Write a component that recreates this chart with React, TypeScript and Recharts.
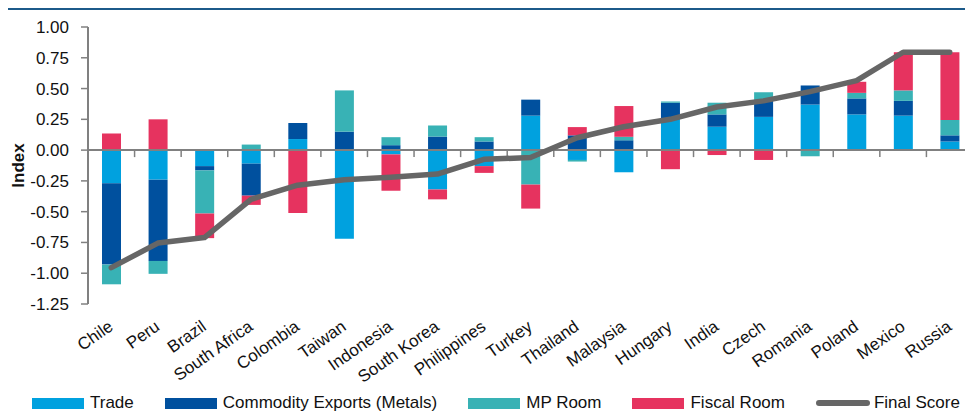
import {
  ComposedChart, Bar, Line, XAxis, YAxis, ReferenceLine, Legend,
} from 'recharts';

const countries = [
  'Chile', 'Peru', 'Brazil', 'South Africa', 'Colombia', 'Taiwan', 'Indonesia',
  'South Korea', 'Philippines', 'Turkey', 'Thailand', 'Malaysia', 'Hungary',
  'India', 'Czech', 'Romania', 'Poland', 'Mexico', 'Russia',
];
const trade = [-0.27, -0.24, -0.13, -0.11, 0.09, -0.72, -0.035, -0.32, -0.13, 0.28, -0.08, -0.18, 0.26, 0.19, 0.27, 0.37, 0.29, 0.28, 0.07];
const commodity = [-0.66, -0.66, -0.035, -0.26, 0.13, 0.15, 0.04, 0.11, 0.07, 0.13, 0.12, 0.08, 0.125, 0.1, 0.13, 0.155, 0.13, 0.12, 0.05];
const mpRoom = [-0.16, -0.105, -0.35, 0.045, 0, 0.335, 0.065, 0.09, 0.035, -0.28, -0.013, 0.028, 0.01, 0.095, 0.07, -0.05, 0.045, 0.085, 0.125];
const fiscal = [0.135, 0.25, -0.2, -0.075, -0.51, 0, -0.295, -0.08, -0.055, -0.195, 0.067, 0.25, -0.155, -0.04, -0.08, 0, 0.09, 0.31, 0.55];
const finalScore = [-0.955, -0.755, -0.71, -0.4, -0.285, -0.24, -0.22, -0.195, -0.075, -0.06, 0.1, 0.19, 0.25, 0.35, 0.4, 0.475, 0.565, 0.795, 0.795];
const yTicks = [-1.25, -1, -0.75, -0.5, -0.25, 0, 0.25, 0.5, 0.75, 1];

const FONT = '"Liberation Sans", Arial, sans-serif';
const AXIS_GREY = '#808080';

const SERIES = [
  { key: 'trade', name: 'Trade', color: '#00a1df' },
  { key: 'commodity', name: 'Commodity Exports (Metals)', color: '#00509e' },
  { key: 'mp', name: 'MP Room', color: '#38b2b5' },
  { key: 'fiscal', name: 'Fiscal Room', color: '#e6335f' },
];
const LINE_COLOR = '#666666';

const data = countries.map((c, i) => ({
  country: c,
  trade: trade[i],
  commodity: commodity[i],
  mp: mpRoom[i],
  fiscal: fiscal[i],
  score: finalScore[i],
}));

// zero line with small tick marks between categories
const ZeroAxis = (props: any) => {
  const { x1, x2, y1 } = props;
  const step = (x2 - x1) / countries.length;
  return (
    <g>
      <line x1={x1} x2={x2} y1={y1} y2={y1} stroke={AXIS_GREY} strokeWidth={2} />
      {countries.map((_, i) => (
        <line key={i} x1={x1 + step * (i + 1)} x2={x1 + step * (i + 1)} y1={y1} y2={y1 + 7} stroke={AXIS_GREY} strokeWidth={1.5} />
      ))}
    </g>
  );
};

const CountryTick = (props: any) => {
  const { x, y, payload } = props;
  return (
    <g transform={`translate(${x},${y})`}>
      <text x={3} y={17} textAnchor="end" transform="rotate(-35 3 17)" fill="#111" fontSize={17} fontFamily={FONT}>
        {payload.value}
      </text>
    </g>
  );
};

const IndexLabel = (props: any) => {
  const { viewBox } = props;
  const cx = viewBox.x + 10;
  const cy = viewBox.y + viewBox.height / 2;
  return (
    <text x={cx} y={cy} transform={`rotate(-90 ${cx} ${cy})`} textAnchor="middle" dominantBaseline="central"
      fontSize={17} fontWeight="bold" fill="#111" fontFamily={FONT}>
      Index
    </text>
  );
};

const renderLegend = () => (
  <div style={{ display: 'flex', alignItems: 'center', paddingLeft: 24, fontFamily: FONT, fontSize: 17, color: '#111', lineHeight: '20px' }}>
    {SERIES.map((s) => (
      <div key={s.key} style={{ display: 'flex', alignItems: 'center', marginRight: 31 }}>
        <span style={{ width: 52, height: 11, background: s.color, marginRight: 6 }} />
        <span>{s.name}</span>
      </div>
    ))}
    <div style={{ display: 'flex', alignItems: 'center' }}>
      <span style={{ width: 54, height: 6, borderRadius: 3, background: LINE_COLOR, marginRight: 4 }} />
      <span>Final Score</span>
    </div>
  </div>
);

export default function App() {
  return (
    <div style={{ marginLeft: -5, paddingLeft: 5, width: 970, borderTop: '2px solid #1c5a8a' }}>
      <ComposedChart
        width={965}
        height={402}
        data={data}
        stackOffset="sign"
        margin={{ top: 17, right: 0, bottom: 0, left: 0 }}
      >
        <XAxis
          dataKey="country"
          axisLine={false}
          tickLine={false}
          interval={0}
          height={108}
          tick={<CountryTick />}
        />
        <YAxis
          type="number"
          domain={[-1.25, 1]}
          ticks={yTicks}
          interval={0}
          width={80}
          tickSize={7}
          tickMargin={12}
          axisLine={{ stroke: AXIS_GREY, strokeWidth: 2 }}
          tickLine={{ stroke: AXIS_GREY, strokeWidth: 1.5 }}
          tick={{ fill: '#111', fontSize: 17, fontFamily: FONT }}
          tickFormatter={(v: number) => v.toFixed(2)}
          label={<IndexLabel />}
        />
        <ReferenceLine y={0} shape={ZeroAxis} />
        {SERIES.map((s) => (
          <Bar key={s.key} dataKey={s.key} name={s.name} stackId="a" fill={s.color} barSize={19} isAnimationActive={false} />
        ))}
        <Line
          dataKey="score"
          name="Final Score"
          stroke={LINE_COLOR}
          strokeWidth={5.5}
          strokeLinecap="round"
          strokeLinejoin="round"
          dot={false}
          activeDot={false}
          isAnimationActive={false}
        />
        <Legend
          layout="horizontal"
          verticalAlign="middle"
          align="center"
          content={renderLegend}
          wrapperStyle={{ top: 383, left: 0, width: 965, height: 20 }}
        />
      </ComposedChart>
    </div>
  );
}
